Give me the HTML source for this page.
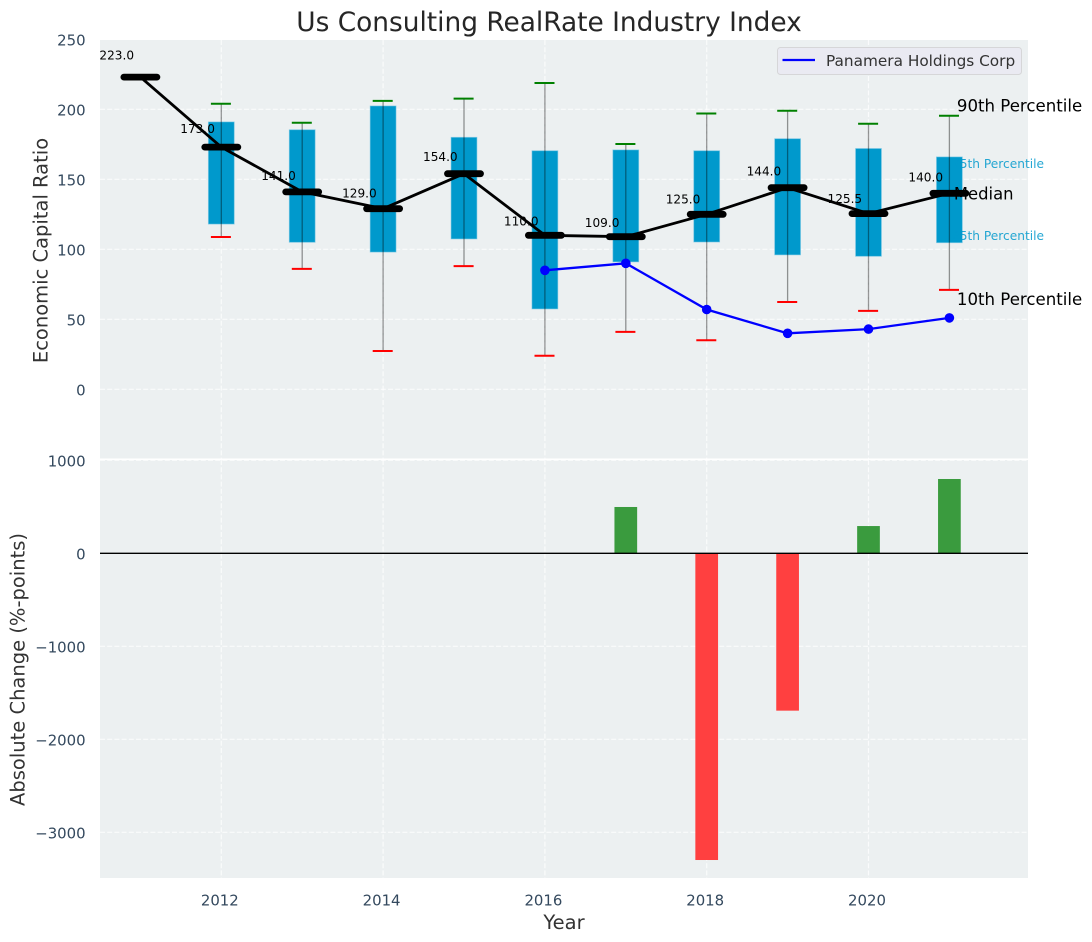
<!DOCTYPE html>
<html lang="en">
<head>
<meta charset="utf-8">
<title>Us Consulting RealRate Industry Index</title>
<style>
html,body{margin:0;padding:0;background:#fff;}
#chart{display:block;width:1092px;height:942px;font-family:"DejaVu Sans","Liberation Sans",sans-serif;}
</style>
</head>
<body>
<svg id="chart" xmlns="http://www.w3.org/2000/svg" width="1092" height="942" viewBox="0 0 1092 942">
  <rect x="100" y="40" width="928" height="418.5" fill="#ecf0f1"/>
  <rect x="100" y="460" width="928" height="418" fill="#ecf0f1"/>
  <g id="grid"></g>
  <g id="boxes"></g>
  <g id="annotations"></g>
  <g id="marks"></g>
  <g id="ticks"></g>
  <text x="549" y="31" text-anchor="middle" font-size="26.4" fill="#262626">Us Consulting RealRate Industry Index</text>
  <text transform="translate(47.5,250.5) rotate(-90)" text-anchor="middle" font-size="19.5" fill="#333333">Economic Capital Ratio</text>
  <text transform="translate(24.5,669.5) rotate(-90)" text-anchor="middle" font-size="19.5" fill="#333333">Absolute Change (%-points)</text>
  <text x="564" y="929" text-anchor="middle" font-size="19.5" fill="#333333">Year</text>
  <g>
    <rect x="777.5" y="47.5" width="244" height="27" rx="3" fill="#eaeaf2" stroke="#d6d6d8" stroke-width="1"/>
    <line x1="782.5" y1="60" x2="815" y2="60" stroke="#0000ff" stroke-width="2.2"/>
    <text x="826" y="66" font-size="15.3" fill="#333333">Panamera Holdings Corp</text>
  </g>
</svg>
<script>
const years = [2011,2012,2013,2014,2015,2016,2017,2018,2019,2020,2021];
const medians = [223,173,141,129,154,110,109,125,144,125.5,140];
const p90 = [null,204,190.4,206,207.6,218.8,175.2,197,199,189.7,195.4];
const p75 = [null,191,185.4,202.4,180,170.4,171,170.4,179,172,166];
const p25 = [null,118,105,98,107.4,57.4,91,105.2,96,95,104.7];
const p10 = [null,108.8,86,27.4,88,24,41,35,62.4,56,71];
const panamera = [null,null,null,null,null,85,90,57,40,43,51];
const changes = [null,null,null,null,null,null,498,-3298,-1692,293,799];
const xTicks = [2012,2014,2016,2018,2020];
const upperTicks = [0,50,100,150,200,250];
const lowerTicks = [1000,0,-1000,-2000,-3000];

const NS = 'http://www.w3.org/2000/svg';
function x(v){ return 221.3 + (v - 2012) * 80.9; }
function yU(v){ return 389.3 - v * 1.4; }
function yL(v){ return 553.3 - v * 0.093; }
function make(parent, tag, attrs, text){
  const el = document.createElementNS(NS, tag);
  for (const k in attrs) el.setAttribute(k, attrs[k]);
  if (text !== undefined) el.textContent = text;
  parent.appendChild(el);
  return el;
}
function fmtTick(v){ return v < 0 ? '\u2212' + Math.abs(v) : String(v); }

const grid = document.getElementById('grid');
const boxes = document.getElementById('boxes');
const notes = document.getElementById('annotations');
const marks = document.getElementById('marks');
const ticks = document.getElementById('ticks');
const gridStyle = {stroke:'#ffffff','stroke-width':1.2,'stroke-dasharray':'5 2.2','stroke-opacity':0.75};

xTicks.forEach(function(t){
  [[40,458.5],[460,878]].forEach(function(r){
    const g = make(grid,'line',Object.assign({x1:x(t),x2:x(t),y1:r[0],y2:r[1]},gridStyle));
    
    
  });
  const l = make(ticks,'text',{x:x(t)-1.5,y:905.3,'text-anchor':'middle','font-size':14.9,fill:'#34495e'},String(t));
  
  
});
upperTicks.forEach(function(t){
  const g = make(grid,'line',Object.assign({x1:100,x2:1028,y1:yU(t),y2:yU(t)},gridStyle));
  
  
  const l = make(ticks,'text',{x:85.6,y:yU(t)+6.2,'text-anchor':'end','font-size':14.9,fill:'#34495e'},fmtTick(t));
  
  
});
lowerTicks.forEach(function(t){
  const g = make(grid,'line',Object.assign({x1:100,x2:1028,y1:yL(t),y2:yL(t)},gridStyle));
  
  
  const l = make(ticks,'text',{x:85.6,y:yL(t)+6.2,'text-anchor':'end','font-size':14.9,fill:'#34495e'},fmtTick(t));
  
  
});

/* boxes */
const boxW = 25.9;
years.forEach(function(yr,i){
  if (p75[i] === null) return;
  const b = make(boxes,'rect',{x:x(yr)-boxW/2,y:yU(p75[i]),width:boxW,height:yU(p25[i])-yU(p75[i]),fill:'#0099cc',stroke:'#7cc8e4','stroke-width':0.8,'stroke-opacity':0.7});
  
  
});

/* percentile annotations beside the last year, drawn over the boxes */
const last = years.length - 1;
const xa = x(years[last]);
const a90 = make(notes,'text',{x:xa+7.5,y:yU(p90[last])-4,'font-size':16.6,fill:'#000000'},'90th Percentile');


const a75 = make(notes,'text',{x:xa+2.6,y:yU(p75[last])+11,'font-size':12.2,fill:'#0099cc','fill-opacity':0.85},'75th Percentile');


const aMed = make(notes,'text',{x:xa+4.5,y:yU(medians[last])+6,'font-size':16.4,fill:'#000000'},'Median');


const a25 = make(notes,'text',{x:xa+2.6,y:yU(p25[last])-2.7,'font-size':12.2,fill:'#0099cc','fill-opacity':0.85},'25th Percentile');


const a10 = make(notes,'text',{x:xa+7.5,y:yU(p10[last])+15.3,'font-size':16.6,fill:'#000000'},'10th Percentile');



/* whiskers and caps */
years.forEach(function(yr,i){
  if (p90[i] === null) return;
  const w = make(marks,'line',{x1:x(yr),x2:x(yr),y1:yU(p90[i]),y2:yU(p10[i]),stroke:'#000000','stroke-width':1.3,'stroke-opacity':0.4});
  
  
  const c1 = make(marks,'line',{x1:x(yr)-10.4,x2:x(yr)+9.6,y1:yU(p90[i]),y2:yU(p90[i]),stroke:'#008000','stroke-width':2});
  
  
  const c2 = make(marks,'line',{x1:x(yr)-10.4,x2:x(yr)+9.6,y1:yU(p10[i]),y2:yU(p10[i]),stroke:'#ff0000','stroke-width':2});
  
  
});
/* median connector */
const medLine = make(marks,'polyline',{points:years.map(function(yr,i){return x(yr)+','+yU(medians[i]);}).join(' '),fill:'none',stroke:'#000000','stroke-width':2.8,'stroke-linejoin':'round'});


/* panamera series */
const panaPts = [];
years.forEach(function(yr,i){ if (panamera[i] !== null) panaPts.push(x(yr)+','+yU(panamera[i])); });
const panaLine = make(marks,'polyline',{points:panaPts.join(' '),fill:'none',stroke:'#0000ff','stroke-width':2.3});


years.forEach(function(yr,i){
  if (panamera[i] === null) return;
  const p = make(marks,'circle',{cx:x(yr),cy:yU(panamera[i]),r:4.8,fill:'#0000ff'});
  
  
});
/* median bars and value labels */
years.forEach(function(yr,i){
  const m = make(marks,'line',{x1:x(yr)-16.5,x2:x(yr)+16.5,y1:yU(medians[i]),y2:yU(medians[i]),stroke:'#000000','stroke-width':6.8,'stroke-linecap':'round'});
  
  
  const t = make(marks,'text',{x:x(yr)-41,y:yU(medians[i]*1.05)-2,'font-size':12.1,fill:'#000000'},medians[i].toFixed(1));
  
  
});
/* change bars */
const barW = 22.7;
years.forEach(function(yr,i){
  if (changes[i] === null) return;
  const top = Math.min(yL(changes[i]),yL(0));
  const h = Math.abs(yL(changes[i])-yL(0));
  const b = make(marks,'rect',{x:x(yr)-barW/2,y:top,width:barW,height:h,fill:changes[i] >= 0 ? '#3a9b3e' : '#ff4040'});
  
  
});
const zero = make(marks,'line',{x1:100,x2:1028,y1:yL(0),y2:yL(0),stroke:'#000000','stroke-width':1.4});


</script>
</body>
</html>
